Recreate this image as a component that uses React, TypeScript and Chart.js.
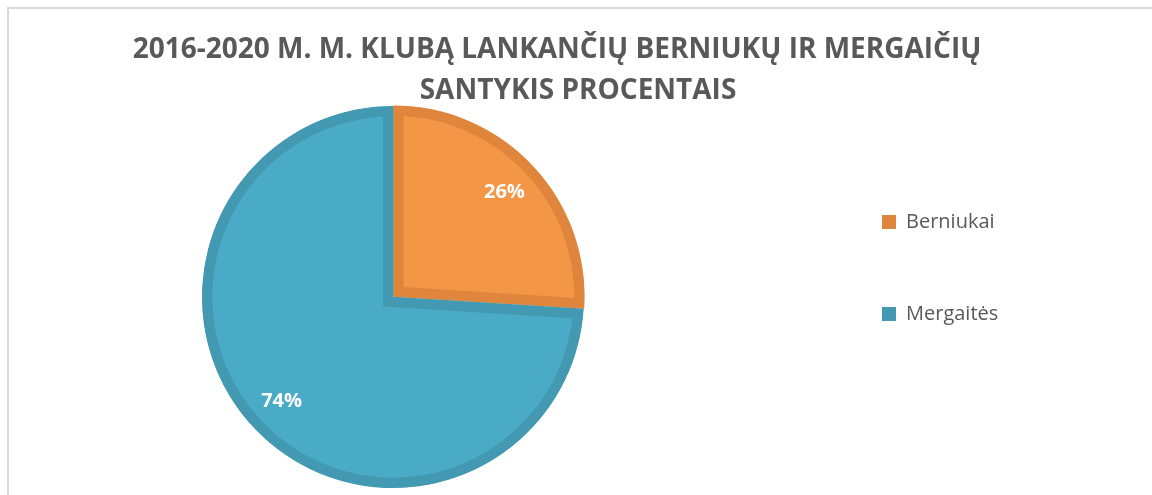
import React, { useEffect, useRef } from "react";
import { Chart, registerables } from "chart.js";

Chart.register(...registerables);

const TITLE_LINES = ["2016-2020 M. M. KLUBĄ LANKANČIŲ BERNIUKŲ IR MERGAIČIŲ", "SANTYKIS PROCENTAIS"];
const CATEGORIES = ["Berniukai", "Mergaitės"];
const PERCENTAGES = [26, 74];
const FILL_COLORS = ["#F39646", "#4AABC6"];
const EDGE_COLORS = ["#E0853C", "#4399B2"];

const TEXT_COLOR = "#595959";
const FONT = '"Open Sans", "DejaVu Sans", sans-serif';
const SHIFT = 24; // canvas is placed 24px to the left of the page edge
const CANVAS_W = 1152 + SHIFT;
const CANVAS_H = 495;
const LEGEND_FONT_SIZE = 20;
const LEGEND_BOX = 14;
const LEGEND_PAD = 72;
const PIE_RIGHT = 834; // right edge of the chart area in canvas px

const framePlugin = {
  id: "frame",
  beforeDraw(chart: any) {
    const ctx = chart.ctx;
    ctx.save();
    ctx.fillStyle = "#ffffff";
    ctx.fillRect(0, 0, chart.width, chart.height);
    ctx.strokeStyle = "#D9D9D9";
    ctx.lineWidth = 2;
    ctx.strokeRect(8 + SHIFT, 8, 1200, 600);
    ctx.restore();
  },
};

const titlePlugin = {
  id: "customTitle",
  afterDraw(chart: any) {
    const ctx = chart.ctx;
    ctx.save();
    ctx.fillStyle = TEXT_COLOR;
    ctx.font = `bold 28px ${FONT}`;
    ctx.textAlign = "center";
    ctx.textBaseline = "alphabetic";
    ctx.fillText(TITLE_LINES[0], 557 + SHIFT, 58);
    ctx.fillText(TITLE_LINES[1], 578 + SHIFT, 99);
    ctx.restore();
  },
};

const labelPlugin = {
  id: "sliceLabels",
  afterDatasetsDraw(chart: any) {
    const ctx = chart.ctx;
    const meta = chart.getDatasetMeta(0);
    ctx.save();
    ctx.fillStyle = "#FFFFFF";
    ctx.font = `bold 20px ${FONT}`;
    ctx.textAlign = "center";
    ctx.textBaseline = "middle";
    meta.data.forEach((arc: any, i: number) => {
      const p = arc.getProps(["x", "y", "startAngle", "endAngle", "outerRadius"], true);
      const mid = (p.startAngle + p.endAngle) / 2;
      const r = p.outerRadius * 0.8;
      ctx.fillText(`${PERCENTAGES[i]}%`, p.x + Math.cos(mid) * r, p.y + Math.sin(mid) * r);
    });
    ctx.restore();
  },
};

function legendWidth(): number {
  const c = document.createElement("canvas").getContext("2d")!;
  c.font = `${LEGEND_FONT_SIZE}px ${FONT}`;
  const maxText = Math.max(...CATEGORIES.map((t) => c.measureText(t).width));
  return LEGEND_PAD + LEGEND_BOX + LEGEND_FONT_SIZE / 2 + maxText + 10;
}

export default function App() {
  const ref = useRef<HTMLCanvasElement | null>(null);

  useEffect(() => {
    document.body.style.margin = "0";
    if (!ref.current) return;
    const padRight = Math.max(0, CANVAS_W - PIE_RIGHT - legendWidth());
    const chart = new Chart(ref.current, {
      type: "pie",
      data: {
        labels: CATEGORIES,
        datasets: [
          {
            data: PERCENTAGES,
            backgroundColor: FILL_COLORS,
            borderColor: EDGE_COLORS,
            borderWidth: 10,
            borderAlign: "inner",
            borderJoinStyle: "miter",
            offset: [3, 0],
            hoverOffset: 0,
            radius: 191,
          } as any,
        ],
      },
      options: {
        animation: false,
        responsive: false,
        layout: { padding: { top: 140, bottom: 41, left: 0, right: padRight } },
        plugins: {
          title: { display: false },
          tooltip: { enabled: false },
          legend: {
            display: true,
            position: "right",
            align: "start",
            labels: {
              boxWidth: LEGEND_BOX,
              boxHeight: LEGEND_BOX,
              padding: LEGEND_PAD,
              color: TEXT_COLOR,
              font: { family: FONT, size: LEGEND_FONT_SIZE },
              generateLabels: () =>
                CATEGORIES.map((c, i) => ({
                  text: c,
                  fillStyle: EDGE_COLORS[i],
                  strokeStyle: EDGE_COLORS[i],
                  lineWidth: 0,
                  hidden: false,
                  index: i,
                  fontColor: TEXT_COLOR,
                })),
            },
          },
        },
      },
      plugins: [framePlugin, titlePlugin, labelPlugin],
    });
    return () => chart.destroy();
  }, []);

  return (
    <div style={{ width: 1152, height: 495, position: "relative", overflow: "hidden" }}>
      <canvas
        ref={ref}
        width={CANVAS_W}
        height={CANVAS_H}
        style={{ display: "block", position: "absolute", left: -SHIFT, top: 0 }}
      />
    </div>
  );
}
